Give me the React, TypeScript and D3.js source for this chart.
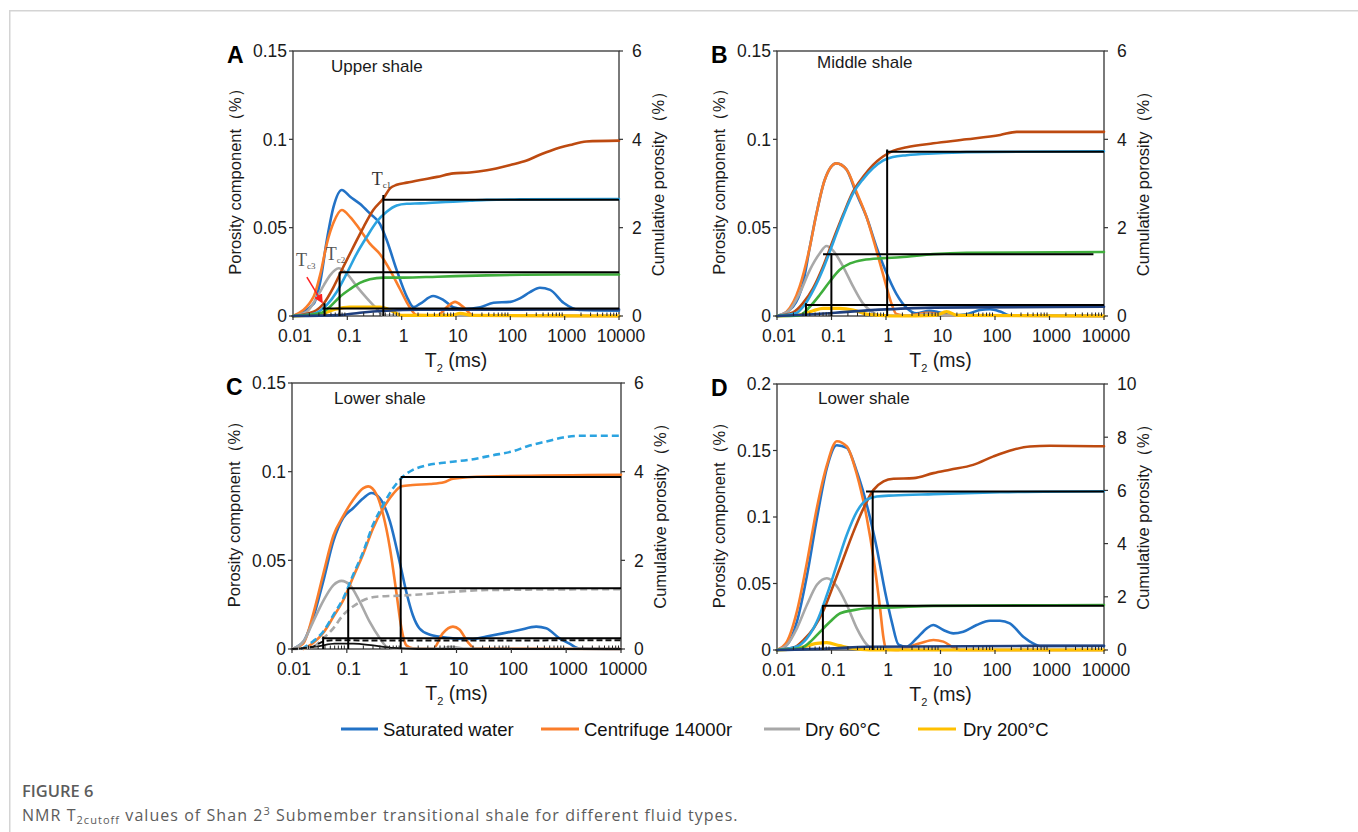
import React from "react";
import * as d3 from "d3";

type Pt = [number, number];

// ---------- shared axis data ----------
const T_TICKS = [0.01, 0.1, 1, 10, 100, 1000, 10000];
const T_TICK_LABELS = ["0.01", "0.1", "1", "10", "100", "1000", "10000"];
const LEGEND_LABELS = ["Saturated water", "Centrifuge 14000r", "Dry 60°C", "Dry 200°C"];

// ---------- Panel A (Upper shale) ----------
const A_sat: Pt[] = [[0.01,0],[0.024,0.007],[0.032,0.02],[0.042,0.043],[0.056,0.062],[0.079,0.0713],[0.113,0.0675],[0.17,0.0635],[0.26,0.058],[0.4,0.052],[0.53,0.043],[0.81,0.026],[1.24,0.011],[1.66,0.005],[2.2,0.007],[3.8,0.0113],[5.9,0.009],[8.9,0.005],[14,0.004],[28,0.005],[49,0.0075],[100,0.008],[150,0.01],[230,0.0135],[350,0.016],[540,0.0148],[950,0.0075],[1900,0.0034],[10000,0.003]];
const A_cen: Pt[] = [[0.01,0],[0.024,0.011],[0.032,0.024],[0.042,0.041],[0.056,0.053],[0.079,0.06],[0.113,0.056],[0.17,0.049],[0.26,0.041],[0.4,0.035],[0.61,0.026],[0.94,0.015],[1.4,0.005],[1.9,0.0005],[4.5,0.0003],[6.8,0.005],[9.6,0.008],[13.7,0.005],[21,0.0003],[10000,0]];
const A_dry60: Pt[] = [[0.01,0],[0.018,0.0025],[0.028,0.011],[0.037,0.0175],[0.048,0.023],[0.069,0.027],[0.098,0.024],[0.15,0.0166],[0.23,0.01],[0.35,0.004],[0.46,0.0003],[10000,0]];
const A_dry200: Pt[] = [[0.01,0],[0.032,0.001],[0.06,0.0038],[0.11,0.005],[0.4,0.005],[0.7,0.0025],[1.0,0.0003],[8,0.0003],[12,0.0015],[20,0.0003],[10000,0]];
const A_satCum: Pt[] = [[0.01,0],[0.024,0.1],[0.037,0.29],[0.056,0.66],[0.085,1.12],[0.13,1.57],[0.2,2.02],[0.3,2.4],[0.46,2.66],[0.61,2.89],[0.81,2.97],[1.24,3.02],[2.2,3.08],[4.5,3.15],[8.9,3.23],[18,3.25],[37,3.3],[100,3.42],[200,3.52],[350,3.65],[600,3.76],[1250,3.87],[2500,3.95],[10000,3.97]];
const A_cenCum: Pt[] = [[0.01,0],[0.024,0.05],[0.042,0.25],[0.064,0.55],[0.098,0.97],[0.15,1.42],[0.23,1.8],[0.35,2.14],[0.53,2.36],[0.81,2.5],[1.24,2.54],[2.2,2.55],[4.5,2.57],[8.9,2.59],[18,2.61],[37,2.63],[150,2.64],[10000,2.65]];
const A_dry60Cum: Pt[] = [[0.01,0],[0.032,0.06],[0.048,0.21],[0.074,0.44],[0.11,0.6],[0.17,0.75],[0.26,0.83],[0.46,0.87],[1.08,0.87],[4.5,0.89],[37,0.92],[1000,0.94],[10000,0.94]];
const A_dry200Cum: Pt[] = [[0.01,0],[0.07,0.02],[0.17,0.075],[0.53,0.12],[2.2,0.14],[10000,0.15]];
const A_cut_T = [0.46, 0.072, 0.038];
const A_cut_top = [2.74, 0.99, 0.29];
const A_cut_level = [2.63, 0.99, 0.17];
const A_cut_from = [0.46, 0.072, 0.035];

// ---------- Panel B (Middle shale) ----------
const B_sat: Pt[] = [[0.01,0],[0.0197,0.0053],[0.03,0.0185],[0.04,0.039],[0.053,0.058],[0.075,0.077],[0.123,0.0864],[0.188,0.083],[0.28,0.07],[0.44,0.056],[0.67,0.039],[1.0,0.025],[1.55,0.0125],[2.4,0.0045],[3.6,0.0015],[6.4,0.003],[9.8,0.0019],[17,0.0004],[30,0.001],[53,0.0034],[81,0.0038],[125,0.0025],[190,0.0003],[10000,0]];
const B_cen: Pt[] = [[0.01,0],[0.015,0.0025],[0.026,0.0166],[0.04,0.039],[0.053,0.058],[0.075,0.077],[0.123,0.0864],[0.188,0.083],[0.28,0.071],[0.44,0.056],[0.67,0.037],[0.95,0.02],[1.26,0.007],[1.55,0.0011],[2.4,0.0002],[6,0.0018],[12,0.0005],[19,0.0003],[10000,0]];
const B_dry60: Pt[] = [[0.01,0],[0.017,0.0034],[0.026,0.0128],[0.04,0.026],[0.061,0.0355],[0.081,0.0396],[0.107,0.037],[0.163,0.028],[0.25,0.0166],[0.38,0.007],[0.58,0.0019],[0.77,0.0002],[3,0.0002],[6,0.0012],[12,0.0003],[10000,0]];
const B_dry200: Pt[] = [[0.01,0],[0.026,0.0006],[0.046,0.003],[0.07,0.0043],[0.14,0.0043],[0.25,0.0034],[0.44,0.0011],[0.77,0.0004],[1.5,0],[8,0.0003],[13,0.0025],[20,0.0004],[10000,0]];
const B_satCum: Pt[] = [[0.01,0],[0.0197,0.08],[0.03,0.29],[0.046,0.63],[0.07,1.12],[0.107,1.72],[0.163,2.29],[0.25,2.82],[0.38,3.15],[0.58,3.42],[0.88,3.61],[1.34,3.74],[2.4,3.82],[7.4,3.91],[30,4.0],[125,4.1],[250,4.17],[10000,4.17]];
const B_cenCum: Pt[] = [[0.01,0],[0.022,0.06],[0.032,0.25],[0.048,0.62],[0.072,1.1],[0.11,1.7],[0.165,2.27],[0.25,2.78],[0.38,3.1],[0.58,3.35],[0.88,3.52],[1.34,3.6],[2.4,3.64],[7.4,3.68],[30,3.71],[10000,3.73]];
const B_dry60Cum: Pt[] = [[0.01,0],[0.026,0.015],[0.04,0.21],[0.061,0.48],[0.093,0.78],[0.14,1.04],[0.22,1.19],[0.38,1.27],[0.88,1.31],[1.8,1.33],[7.4,1.4],[30,1.43],[10000,1.45]];
const B_dry200Cum: Pt[] = [[0.01,0],[0.053,0.045],[0.22,0.1],[1.0,0.15],[7.4,0.19],[10000,0.21]];
const B_cut_T = [1.05, 0.0995, 0.034];
const B_cut_top = [3.77, 1.42, 0.29];
const B_cut_level = [3.72, 1.4, 0.25];
const B_cut_from = [1.0, 0.07, 0.034];
const B_cut_to = [10000, 6400, 10000];

// ---------- Panel C (Lower shale) ----------
const C_sat: Pt[] = [[0.01,0],[0.016,0.004],[0.024,0.017],[0.037,0.038],[0.057,0.061],[0.086,0.074],[0.13,0.0794],[0.2,0.085],[0.28,0.088],[0.4,0.085],[0.61,0.072],[0.92,0.049],[1.22,0.032],[1.6,0.019],[2.1,0.0117],[3.3,0.008],[4.9,0.007],[8.6,0.006],[20,0.0056],[35,0.007],[70,0.0088],[140,0.0107],[284,0.0126],[432,0.0117],[757,0.006],[1150,0.003],[1750,0.0002],[10000,0]];
const C_cen: Pt[] = [[0.01,0],[0.016,0.003],[0.024,0.019],[0.037,0.042],[0.057,0.064],[0.086,0.075],[0.13,0.084],[0.2,0.0907],[0.245,0.0917],[0.35,0.087],[0.46,0.0757],[0.61,0.057],[0.8,0.032],[0.99,0.0117],[1.22,0.002],[1.6,0.0004],[3.75,0.0002],[5.6,0.0088],[8.6,0.0126],[11.3,0.011],[16,0.004],[21.5,0.0004],[10000,0]];
const C_dry60: Pt[] = [[0.01,0],[0.016,0.004],[0.024,0.015],[0.037,0.027],[0.057,0.036],[0.08,0.0384],[0.114,0.036],[0.17,0.027],[0.26,0.0154],[0.4,0.006],[0.53,0.0013],[0.7,0.0002],[5,0.0002],[8,0.0013],[15,0.0002],[10000,0]];
const C_dry200: Pt[] = [[0.01,0],[0.03,0.0015],[0.06,0.003],[0.13,0.003],[0.3,0.002],[0.7,0.0006],[2,0],[10000,0]];
const C_satCum: Pt[] = [[0.015,0],[0.024,0.17],[0.037,0.39],[0.057,0.77],[0.086,1.14],[0.13,1.67],[0.2,2.2],[0.3,2.8],[0.46,3.25],[0.7,3.63],[1.06,3.89],[1.6,4.04],[2.8,4.14],[6.5,4.21],[17.5,4.27],[46,4.37],[106,4.46],[215,4.59],[430,4.68],[870,4.77],[1750,4.81],[10000,4.81]];
const C_cenCum: Pt[] = [[0.016,0],[0.024,0.13],[0.037,0.36],[0.057,0.73],[0.086,1.1],[0.13,1.62],[0.2,2.15],[0.3,2.72],[0.46,3.17],[0.7,3.5],[0.99,3.67],[1.6,3.7],[3.3,3.72],[5.9,3.76],[8.6,3.84],[35,3.89],[10000,3.93]];
const C_dry60Cum: Pt[] = [[0.01,0],[0.024,0.05],[0.037,0.24],[0.057,0.47],[0.086,0.77],[0.13,0.96],[0.2,1.1],[0.35,1.18],[0.8,1.2],[2.1,1.23],[8.6,1.29],[35,1.33],[10000,1.35]];
const C_dry200Cum: Pt[] = [[0.01,0],[0.024,0.05],[0.037,0.17],[0.06,0.2],[0.3,0.19],[2,0.19],[10000,0.2]];
const C_cut_T = [0.96, 0.106, 0.037];
const C_cut_top = [3.85, 1.37, 0.28];
const C_cut_level = [3.88, 1.37, 0.24];
const C_cut_from = [0.96, 0.106, 0.037];

// ---------- Panel D (Lower shale) ----------
const D_sat: Pt[] = [[0.01,0],[0.0152,0.0038],[0.0232,0.0213],[0.0355,0.056],[0.054,0.099],[0.0823,0.137],[0.125,0.154],[0.191,0.152],[0.292,0.134],[0.445,0.109],[0.678,0.0765],[0.96,0.044],[1.28,0.021],[1.7,0.004],[2.4,0.0025],[3.66,0.0088],[5.6,0.0163],[7.4,0.0188],[11.3,0.015],[17.2,0.0125],[26.2,0.0138],[46,0.0188],[81,0.022],[123,0.022],[187,0.02],[330,0.01],[500,0.005],[660,0.003],[10000,0.003]];
const D_cen: Pt[] = [[0.01,0],[0.0152,0.0063],[0.0232,0.029],[0.0355,0.066],[0.054,0.107],[0.0823,0.139],[0.125,0.157],[0.191,0.153],[0.292,0.132],[0.445,0.099],[0.59,0.069],[0.78,0.031],[0.9,0.009],[1.0,0.0008],[1.5,0],[4.2,0.005],[7.4,0.0075],[11.3,0.0063],[17.2,0.0018],[23,0],[10000,0]];
const D_dry60: Pt[] = [[0.01,0],[0.0152,0.0038],[0.0232,0.0163],[0.0355,0.034],[0.054,0.049],[0.0823,0.054],[0.125,0.048],[0.191,0.034],[0.292,0.0163],[0.445,0.004],[0.59,0.0003],[10000,0]];
const D_dry200: Pt[] = [[0.01,0],[0.027,0.0018],[0.054,0.005],[0.0823,0.0055],[0.14,0.0033],[0.23,0.0013],[0.5,0],[10000,0]];
const D_satCum: Pt[] = [[0.01,0],[0.0202,0.09],[0.0308,0.38],[0.047,0.82],[0.0716,1.5],[0.109,2.45],[0.166,3.45],[0.254,4.45],[0.387,5.33],[0.59,6.02],[0.9,6.34],[1.37,6.44],[3.19,6.46],[7.4,6.65],[14.9,6.78],[39.7,6.96],[93.8,7.28],[215,7.53],[437,7.65],[1008,7.68],[10000,7.66]];
const D_cenCum: Pt[] = [[0.01,0],[0.0232,0.13],[0.0355,0.44],[0.054,1.07],[0.0823,2.07],[0.125,3.2],[0.191,4.33],[0.292,5.2],[0.445,5.65],[0.678,5.77],[1.37,5.81],[7.4,5.86],[123,5.93],[10000,5.97]];
const D_dry60Cum: Pt[] = [[0.01,0],[0.0267,0.06],[0.0408,0.31],[0.0622,0.69],[0.095,1.07],[0.145,1.38],[0.254,1.5],[0.445,1.57],[1.37,1.6],[7.4,1.66],[10000,1.69]];
const D_dry200Cum: Pt[] = [[0.01,0],[0.109,0.06],[0.445,0.125],[10000,0.16]];
const D_cut_T = [0.57, 0.0695];
const D_cut_top = [5.96, 1.69];
const D_cut_level = [5.96, 1.66];
const D_cut_from = [0.43, 0.0695];

// ---------- colours ----------
const C_BLUE = "#2272c6";
const C_ORANGE = "#fa7d2a";
const C_GRAY = "#a8a8a8";
const C_YELLOW = "#ffc000";
const C_BROWN = "#bd4a10";
const C_LBLUE = "#2ba3e0";
const C_GREEN = "#3fae3c";
const C_DBLUE = "#1f3f7e";

type Series = { data: Pt[]; axis: "L" | "R"; color: string; width?: number; dash?: string };
type Cut = { t: number; top: number; level: number; from: number; to: number };

const mkCuts = (t: number[], top: number[], lvl: number[], from: number[], to?: number[]): Cut[] =>
  t.map((v, i) => ({ t: v, top: top[i], level: lvl[i], from: from[i], to: to ? to[i] : 10000 }));

const std = (sat: Pt[], cen: Pt[], d60: Pt[], d200: Pt[], sc: Pt[], cc: Pt[], d60c: Pt[], d200c: Pt[]): Series[] => [
  { data: sat, axis: "L", color: C_BLUE },
  { data: cen, axis: "L", color: C_ORANGE },
  { data: d60, axis: "L", color: C_GRAY },
  { data: d200, axis: "L", color: C_YELLOW, width: 3.2 },
  { data: sc, axis: "R", color: C_BROWN },
  { data: cc, axis: "R", color: C_LBLUE },
  { data: d60c, axis: "R", color: C_GREEN },
  { data: d200c, axis: "R", color: C_DBLUE },
];

const PANELS = [
  {
    id: "A", title: "Upper shale", x: 293, y: 51, w: 326, h: 265, tdx: 38, tdy: 21,
    lMax: 0.15, lTicks: [0, 0.05, 0.1, 0.15], rMax: 6, rTicks: [0, 2, 4, 6],
    series: std(A_sat, A_cen, A_dry60, A_dry200, A_satCum, A_cenCum, A_dry60Cum, A_dry200Cum),
    cuts: mkCuts(A_cut_T, A_cut_top, A_cut_level, A_cut_from),
  },
  {
    id: "B", title: "Middle shale", x: 777, y: 51, w: 327, h: 265, tdx: 40, tdy: 17,
    lMax: 0.15, lTicks: [0, 0.05, 0.1, 0.15], rMax: 6, rTicks: [0, 2, 4, 6],
    series: std(B_sat, B_cen, B_dry60, B_dry200, B_satCum, B_cenCum, B_dry60Cum, B_dry200Cum),
    cuts: mkCuts(B_cut_T, B_cut_top, B_cut_level, B_cut_from, B_cut_to),
  },
  {
    id: "C", title: "Lower shale", x: 292, y: 383, w: 329, h: 266, tdx: 42, tdy: 21,
    lMax: 0.15, lTicks: [0, 0.05, 0.1, 0.15], rMax: 6, rTicks: [0, 2, 4, 6],
    series: [
      { data: C_sat, axis: "L", color: C_BLUE },
      { data: C_cen, axis: "L", color: C_ORANGE },
      { data: C_dry60, axis: "L", color: C_GRAY },
      { data: C_dry200, axis: "L", color: "#111", width: 1.8 },
      { data: C_cenCum, axis: "R", color: C_ORANGE },
      { data: C_satCum, axis: "R", color: C_LBLUE, dash: "7 4" },
      { data: C_dry60Cum, axis: "R", color: C_GRAY, dash: "7 4" },
      { data: C_dry200Cum, axis: "R", color: "#111", dash: "6 3", width: 2 },
    ] as Series[],
    cuts: mkCuts(C_cut_T, C_cut_top, C_cut_level, C_cut_from),
  },
  {
    id: "D", title: "Lower shale", x: 777, y: 384, w: 327, h: 266, tdx: 41, tdy: 20,
    lMax: 0.2, lTicks: [0, 0.05, 0.1, 0.15, 0.2], rMax: 10, rTicks: [0, 2, 4, 6, 8, 10],
    series: std(D_sat, D_cen, D_dry60, D_dry200, D_satCum, D_cenCum, D_dry60Cum, D_dry200Cum),
    cuts: mkCuts(D_cut_T, D_cut_top, D_cut_level, D_cut_from),
  },
];

const LEGEND_COLORS = [C_BLUE, C_ORANGE, C_GRAY, C_YELLOW];
const LEGEND_POS = [
  { x1: 341, x2: 378, tx: 383 },
  { x1: 541, x2: 579, tx: 584 },
  { x1: 764, x2: 800, tx: 805 },
  { x1: 918, x2: 956, tx: 963 },
];

const SANS = "'Liberation Sans', Arial, Helvetica, sans-serif";
const SERIF = "'Liberation Serif', 'Times New Roman', serif";

const MINOR: number[] = [];
for (let e = -2; e < 4; e++) for (let k = 2; k <= 9; k++) MINOR.push(k * Math.pow(10, e));

function Panel({ p }: { p: (typeof PANELS)[number] }) {
  const xs = d3.scaleLog().domain([0.01, 10000]).range([p.x, p.x + p.w]);
  const yl = d3.scaleLinear().domain([0, p.lMax]).range([p.y + p.h, p.y]);
  const yr = d3.scaleLinear().domain([0, p.rMax]).range([p.y + p.h, p.y]);
  const bottom = p.y + p.h;
  const right = p.x + p.w;
  const mk = (axis: "L" | "R") =>
    d3.line<Pt>().x((d) => xs(d[0])).y((d) => (axis === "L" ? yl(d[1]) : yr(d[1]))).curve(d3.curveMonotoneX);
  const midY = p.y + p.h / 2;
  return (
    <g>
      {/* frame */}
      <rect x={p.x} y={p.y} width={p.w} height={p.h} fill="none" stroke="#333" strokeWidth={1.3} />
      {/* curves */}
      {p.series.map((s, i) => (
        <path key={i} d={mk(s.axis)(s.data) || ""} fill="none" stroke={s.color}
          strokeWidth={s.width ?? 2.6} strokeDasharray={s.dash} strokeLinejoin="round" strokeLinecap={s.dash ? "butt" : "round"} />
      ))}
      {/* cutoff lines */}
      {p.cuts.map((c, i) => (
        <g key={i} stroke="#000" strokeWidth={2}>
          <line x1={xs(c.t)} x2={xs(c.t)} y1={bottom} y2={yr(c.top)} />
          <line x1={xs(c.from)} x2={xs(c.to)} y1={yr(c.level)} y2={yr(c.level)} />
        </g>
      ))}
      {/* minor x ticks inside */}
      {MINOR.map((m, i) => (
        <line key={i} x1={xs(m)} x2={xs(m)} y1={bottom} y2={bottom - 3.5} stroke="#222" strokeWidth={1} />
      ))}
      {/* major x ticks + labels */}
      {T_TICKS.map((t, i) => (
        <g key={i}>
          <line x1={xs(t)} x2={xs(t)} y1={bottom} y2={bottom + 4} stroke="#333" strokeWidth={1.2} />
          <text x={xs(t) + 2} y={bottom + 26} textAnchor="middle" fontSize={17.5} fontFamily={SANS} fill="#1a1a1a">
            {T_TICK_LABELS[i]}
          </text>
        </g>
      ))}
      {/* left ticks */}
      {p.lTicks.map((v, i) => (
        <g key={i}>
          <line x1={p.x - 4} x2={p.x} y1={yl(v)} y2={yl(v)} stroke="#333" strokeWidth={1.2} />
          <text x={p.x - 6} y={yl(v)} dy="0.36em" textAnchor="end" fontSize={17.5} fontFamily={SANS} fill="#1a1a1a">
            {String(v)}
          </text>
        </g>
      ))}
      {/* right ticks */}
      {p.rTicks.map((v, i) => (
        <g key={i}>
          <line x1={right} x2={right + 4} y1={yr(v)} y2={yr(v)} stroke="#333" strokeWidth={1.2} />
          <text x={right + 13} y={yr(v)} dy="0.36em" textAnchor="start" fontSize={17.5} fontFamily={SANS} fill="#1a1a1a">
            {String(v)}
          </text>
        </g>
      ))}
      {/* axis titles */}
      <text transform={`translate(${p.x - 58},${midY - 6}) rotate(-90)`} textAnchor="middle" dy="0.35em"
        fontSize={16.5} fontFamily={SANS} fill="#1a1a1a">
        Porosity component（%）
      </text>
      <text transform={`translate(${right + 39},${midY - 4}) rotate(-90)`} textAnchor="middle" dy="0.35em"
        fontSize={16.5} fontFamily={SANS} fill="#1a1a1a">
        Cumulative porosity（%）
      </text>
      <text x={p.x + p.w / 2} y={bottom + 51} textAnchor="middle" fontSize={19.5} fontFamily={SANS} fill="#1a1a1a">
        <tspan>T</tspan>
        <tspan fontSize={11} dy={5}>2</tspan>
        <tspan dy={-5}> (ms)</tspan>
      </text>
      <text x={p.x + p.tdx} y={p.y + p.tdy} fontSize={17} fontFamily={SANS} fill="#1a1a1a">{p.title}</text>
      <text x={p.x - 66} y={p.y + 12} fontSize={23} fontWeight="bold" fontFamily={SANS} fill="#000">{p.id}</text>
    </g>
  );
}

// Tc annotation (panel A)
const TC_LABEL_T = [0.28, 0.04, 0.0114];
const TC_LABEL_V = [2.97, 1.27, 1.13];
const TC_LABEL_SUB = ["c1", "c2", "c3"];
const ARROW_T: Pt = [0.018, 0.034];
const ARROW_V: Pt = [0.88, 0.32];

function Annotations() {
  const p = PANELS[0];
  const xs = d3.scaleLog().domain([0.01, 10000]).range([p.x, p.x + p.w]);
  const yr = d3.scaleLinear().domain([0, p.rMax]).range([p.y + p.h, p.y]);
  return (
    <g>
      {TC_LABEL_T.map((t, i) => (
        <text key={i} x={xs(t)} y={yr(TC_LABEL_V[i])} fontFamily={SERIF} fontSize={18} fill={i === 0 ? "#333" : "#555"}>
          <tspan>T</tspan>
          <tspan fontSize={9} dy={3}>{TC_LABEL_SUB[i]}</tspan>
        </text>
      ))}
      <line x1={xs(ARROW_T[0])} y1={yr(ARROW_V[0])} x2={xs(ARROW_T[1])} y2={yr(ARROW_V[1])}
        stroke="#ff1f1f" strokeWidth={1.5} markerEnd="url(#arrowRed)" />
    </g>
  );
}

export default function App() {
  return (
    <svg width={1358} height={832} style={{ position: "absolute", left: 0, top: 0, background: "#fff" }}>
      <defs>
        <marker id="arrowRed" viewBox="0 0 10 10" refX="8" refY="5" markerWidth="6" markerHeight="6" orient="auto">
          <path d="M0,0 L10,5 L0,10 z" fill="#ff1f1f" />
        </marker>
      </defs>
      <rect x={0} y={0} width={1358} height={832} fill="#fff" />
      <path d="M9.75,840 L9.75,10.75 L1370,10.75" fill="none" stroke="#d4d4d4" strokeWidth={1.5} />
      {PANELS.map((p) => <Panel key={p.id} p={p} />)}
      <Annotations />
      {/* legend */}
      {LEGEND_LABELS.map((l, i) => (
        <g key={i}>
          <line x1={LEGEND_POS[i].x1} x2={LEGEND_POS[i].x2} y1={729} y2={729} stroke={LEGEND_COLORS[i]} strokeWidth={3} />
          <text x={LEGEND_POS[i].tx} y={729} dy="0.36em" fontSize={18.5} fontFamily={SANS} fill="#111">{l}</text>
        </g>
      ))}
      {/* caption */}
      <text x={22} y={797} fontFamily="'Open Sans', sans-serif" fontWeight={600} fontSize={16.5} fill="#5c5c5c">FIGURE 6</text>
      <text x={22} y={821} fontFamily="'Open Sans', sans-serif" fontSize={16} letterSpacing={1.05} fill="#5c5c5c">
        <tspan>NMR T</tspan>
        <tspan fontSize={11} dy={3}>2cutoff</tspan>
        <tspan dy={-3}> values of Shan 2</tspan>
        <tspan fontSize={11} dy={-6}>3</tspan>
        <tspan dy={6}> Submember transitional shale for different fluid types.</tspan>
      </text>
    </svg>
  );
}
